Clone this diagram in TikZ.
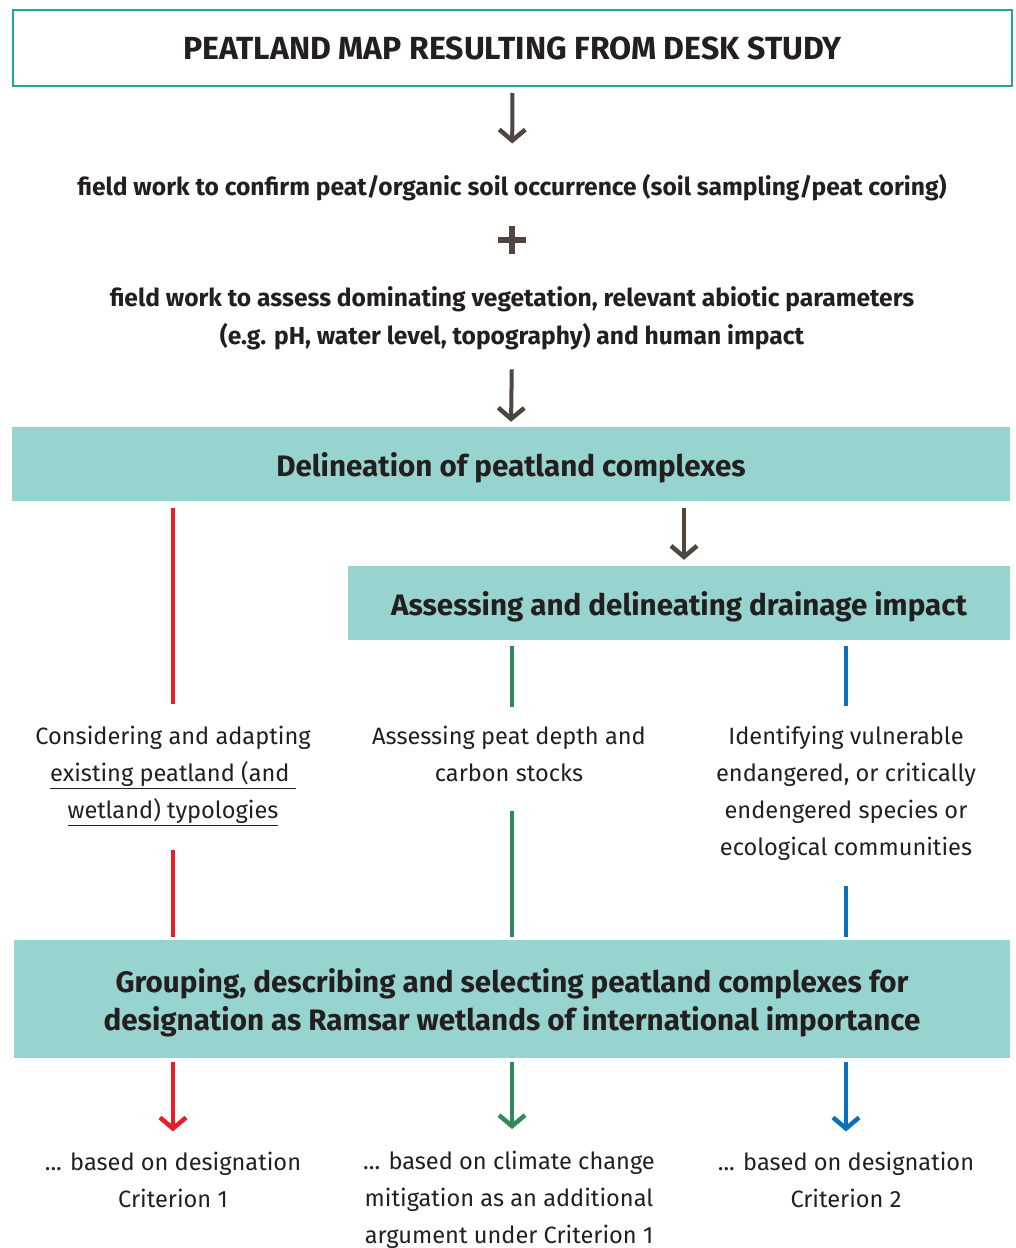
\documentclass[tikz,border=0pt]{standalone}
\usepackage{fontspec}
\setmainfont{Fira Sans}
\usetikzlibrary{arrows.meta}

\definecolor{peatteal}{HTML}{1AA898}
\definecolor{peatfill}{HTML}{97D3CF}
\definecolor{peatbrown}{HTML}{51463F}
\definecolor{peatred}{HTML}{E3202A}
\definecolor{peatgreen}{HTML}{33885C}
\definecolor{peatblue}{HTML}{0A6FC0}
\definecolor{peattext}{HTML}{231F20}

\tikzset{
  outlinebox/.style={draw=peatteal,line width=2,fill=white,inner sep=0,text=peattext,
    font=\bfseries\fontsize{32}{36}\selectfont},
  fillbox/.style={fill=peatfill,inner sep=0,align=center,text=peattext,text depth=0,
    font=\bfseries\fontsize{29.6}{38}\selectfont},
  boldtxt/.style={inner sep=0,align=center,text=peattext,font=\bfseries\fontsize{24.6}{38}\selectfont},
  plaintxt/.style={inner sep=0,align=center,text=peattext,font=\fontsize{23.6}{37}\selectfont},
  downarrow/.style={line width=4,-{Straight Barb[length=11,width=26,line width=4.5]}},
  branch/.style={line width=4}
}

\begin{document}
\begin{tikzpicture}[x=1pt,y=-1pt]
\useasboundingbox (0,0) rectangle (1016,1248);

% steps down the middle
\node[outlinebox,minimum width=999,minimum height=76] (mapbox) at (512.5,48)
  {PEATLAND MAP RESULTING FROM DESK STUDY};
\node[boldtxt] (confirm) at (512,188)
  {field work to confirm peat/organic soil occurrence (soil sampling/peat coring)};
\coordinate (plus) at (512,240);
\node[boldtxt] (assess) at (512,318.5)
  {field work to assess dominating vegetation, relevant abiotic parameters\\
   (e.g. pH, water level, topography) and human impact};
\node[fillbox,minimum width=998,minimum height=74] (delin) at (511,464)
  {Delineation of peatland complexes};
\node[fillbox,minimum width=662,minimum height=74] (drain) at (679,603)
  {Assessing and delineating drainage impact};

% the three branches
\node[plaintxt] (typol) at (173,776)
  {Considering and adapting\\ \underline{existing peatland (and\ }\\ \underline{wetland) typologies}};
\node[plaintxt] (depth) at (509,753.5)
  {Assessing peat depth and\\ carbon stocks};
\node[plaintxt] (species) at (846,793)
  {Identifying vulnerable\\ endangered, or critically\\ endengered species or\\ ecological communities};

\node[fillbox,minimum width=996,minimum height=118] (ramsar) at (512,999)
  {Grouping, describing and selecting peatland complexes for\\
   designation as Ramsar wetlands of international importance};

\node[plaintxt] (crit1) at (173,1179.5)
  {... based on designation\\ Criterion 1};
\node[plaintxt] (climate) at (509,1200)
  {... based on climate change\\ mitigation as an additional\\ argument under Criterion 1};
\node[plaintxt] (crit2) at (846,1179.5)
  {... based on designation\\ Criterion 2};

% brown arrows and the plus
\draw[peatbrown,downarrow,shorten <=6,shorten >=31] (mapbox.south) -- (confirm.north);
\draw[peatbrown,line width=5.5] ([xshift=-14]plus) -- ([xshift=14]plus)
  ([yshift=-14]plus) -- ([yshift=14]plus);
\draw[peatbrown,downarrow,shorten <=19,shorten >=5] (assess.south) -- (delin.north);
\draw[peatbrown,downarrow,shorten <=7,shorten >=6]
  ([xshift=5]drain.north |- delin.south) -- ([xshift=5]drain.north);

% coloured branches
\draw[peatred,branch,shorten <=7,shorten >=22] (typol |- delin.south) -- (typol.north);
\draw[peatred,branch,shorten <=24,shorten >=3] (typol.south) -- (typol |- ramsar.north);
\draw[peatgreen,branch,shorten <=6,shorten >=18]
  ([xshift=3]depth.north |- drain.south) -- ([xshift=3]depth.north);
\draw[peatgreen,branch,shorten <=29,shorten >=3]
  ([xshift=3]depth.south) -- ([xshift=3]depth.south |- ramsar.north);
\draw[peatblue,branch,shorten <=6,shorten >=20] (species |- drain.south) -- (species.north);
\draw[peatblue,branch,shorten <=26,shorten >=3] (species.south) -- (species |- ramsar.north);

\draw[peatred,downarrow,shorten <=4,shorten >=20] (crit1 |- ramsar.south) -- (crit1.north);
\draw[peatgreen,downarrow,shorten <=4,shorten >=22]
  ([xshift=3]climate.north |- ramsar.south) -- ([xshift=3]climate.north);
\draw[peatblue,downarrow,shorten <=4,shorten >=20] (crit2 |- ramsar.south) -- (crit2.north);
\end{tikzpicture}
\end{document}
